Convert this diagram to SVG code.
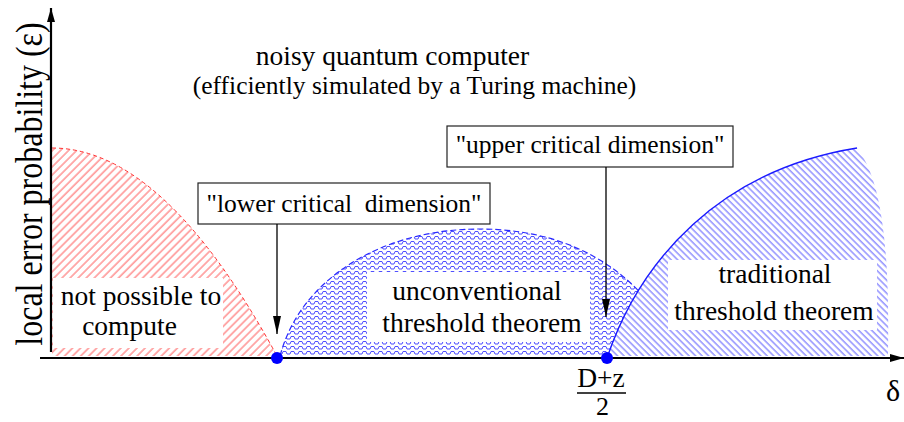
<svg xmlns="http://www.w3.org/2000/svg" width="904" height="422" viewBox="0 0 904 422" font-family="'Liberation Serif', 'DejaVu Serif', serif">
<style>
text{font-family:'Liberation Serif','DejaVu Serif',serif;fill:#000}
.lbl{font-size:27.5px;text-anchor:middle}
.box{fill:#fff;stroke:#222;stroke-width:1.2}
.wb{fill:#fff}
.conn{stroke:#000;stroke-width:1.3;fill:none}
.axis{stroke:#000;stroke-width:2.2;fill:none}
</style>
<defs>
<pattern id="redHatch" patternUnits="userSpaceOnUse" width="5.7" height="10" patternTransform="rotate(45)">
<line x1="1" y1="0" x2="1" y2="10" stroke="#ff5a5a" stroke-width="1"/>
</pattern>
<pattern id="blueHatch" patternUnits="userSpaceOnUse" width="4.6" height="10" patternTransform="rotate(-45)">
<line x1="1" y1="0" x2="1" y2="10" stroke="#5a5aff" stroke-width="1"/>
</pattern>
<pattern id="blueWave" patternUnits="userSpaceOnUse" width="8" height="5">
<path d="M0,4 H2 L3,1.5 H6 L7,4 H8" stroke="#5050ff" stroke-width="1" fill="none"/>
</pattern>
<clipPath id="leftOfCurve">
<path d="M0,0 L857,0 L857,148 C720,170 640,260 607,358 L607,422 L0,422 Z"/>
</clipPath>
<marker id="arr" viewBox="0 0 18 8" refX="18" refY="4" markerWidth="18" markerHeight="8" markerUnits="userSpaceOnUse" orient="auto">
<path d="M0,0 L18,4 L0,8 Z" fill="#000"/>
</marker>
<marker id="axarr" viewBox="0 0 14 8" refX="14" refY="4" markerWidth="14" markerHeight="8" markerUnits="userSpaceOnUse" orient="auto">
<path d="M0,0 L14,4 L0,8 Z" fill="#000"/>
</marker>
</defs>

<g id="regions">
<g id="region-not-possible">
<path d="M52,148 Q164,148 277,356 L52,356 Z" fill="url(#redHatch)"/>
<path d="M52,148 Q164,148 277,356" fill="none" stroke="#ff3030" stroke-width="1" stroke-dasharray="4 3"/>
</g>
<g id="region-unconventional" clip-path="url(#leftOfCurve)">
<path d="M280,356 C300,280 380,229 480,229 C580,229 650,280 680,356 Z" fill="url(#blueWave)"/>
<path d="M280,356 C300,280 380,229 480,229 C580,229 650,280 680,356" fill="none" stroke="#2a2aff" stroke-width="1.2" stroke-dasharray="6 3"/>
</g>
<g id="region-traditional">
<path d="M607,356 C640,260 720,170 857,148 C878,175 890,230 888,352 L888,356 Z" fill="url(#blueHatch)"/>
<path d="M607,358 C640,260 720,170 857,148" fill="none" stroke="#1a1aff" stroke-width="1.4"/>
</g>
</g>

<g id="axes">
<line class="axis" x1="51" y1="352" x2="51" y2="8" marker-end="url(#axarr)"/>
<line class="axis" x1="40" y1="358" x2="904" y2="358" marker-end="url(#axarr)"/>
<text x="0" y="0" font-size="32" text-anchor="middle" transform="translate(42 184) rotate(-90) scale(1 1.2)">local error probability (ε)</text>
<text x="886" y="401" font-size="30">δ</text>
<g id="tick-Dz">
<text x="601" y="387" class="lbl">D+z</text>
<line x1="577" y1="393" x2="626" y2="393" stroke="#000" stroke-width="1.3"/>
<text x="602.5" y="415" font-size="26" text-anchor="middle">2</text>
</g>
</g>

<g id="title">
<text x="392.5" y="65" font-size="27.5" text-anchor="middle">noisy quantum computer</text>
<text x="414.5" y="94" font-size="25.5" text-anchor="middle">(efficiently simulated by a Turing machine)</text>
</g>

<g id="label-not-possible">
<rect class="wb" x="53" y="278" width="170" height="70"/>
<text x="141" y="305" class="lbl">not possible to</text>
<text x="129.5" y="335" class="lbl">compute</text>
</g>
<g id="label-unconventional">
<rect class="wb" x="367" y="272" width="223" height="70"/>
<text x="477" y="300" class="lbl">unconventional</text>
<text x="482" y="332" class="lbl">threshold theorem</text>
</g>
<g id="label-traditional">
<rect class="wb" x="668" y="260" width="209" height="70"/>
<text x="775" y="283" class="lbl">traditional</text>
<text x="774" y="320" class="lbl">threshold theorem</text>
</g>

<g id="node-lower">
<rect class="box" x="198" y="183" width="292" height="41"/>
<text x="344" y="212" font-size="25.5" text-anchor="middle" xml:space="preserve">"lower critical  dimension"</text>
</g>
<g id="node-upper">
<rect class="box" x="447" y="126" width="286" height="41"/>
<text x="590" y="153" font-size="25.5" text-anchor="middle">"upper critical dimension"</text>
</g>

<g id="connectors">
<line class="conn" x1="277" y1="224" x2="277" y2="334" marker-end="url(#arr)"/>
<line class="conn" x1="606" y1="167" x2="606" y2="317" marker-end="url(#arr)"/>
</g>

<g id="points">
<circle id="pt-lower" cx="277" cy="358" r="6" fill="#0000ff"/>
<circle id="pt-upper" cx="607" cy="358" r="6" fill="#0000ff"/>
</g>
</svg>
